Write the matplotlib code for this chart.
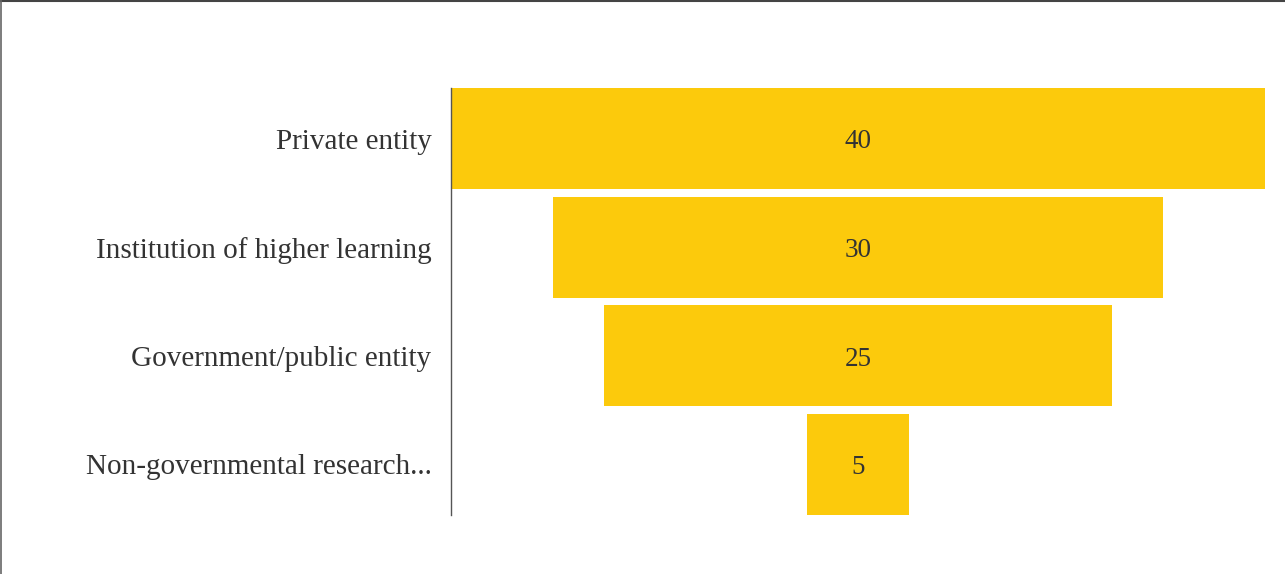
import numpy as np
import matplotlib.pyplot as plt
from matplotlib.lines import Line2D

categorias = ["Private entity", "Institution of higher learning",
              "Government/public entity", "Non-governmental research..."]
valores = [40, 30, 25, 5]

plt.rcParams["font.family"] = ["Liberation Serif", "DejaVu Serif"]

fig = plt.figure(figsize=(12.85, 5.74), dpi=100)
ax = fig.add_axes([0.351, 0.1028, 0.6335, 0.7439])

y = np.arange(len(categorias))
v = np.array(valores, dtype=float)
ax.barh(y, v, left=-v / 2, height=0.93, color="#FCCA0C")

for yi, val in zip(y, valores):
    ax.text(0, yi + 0.03, str(val), ha="center", va="center", fontsize=19.5, color="#333333")

ax.set_xlim(-20, 20)
ax.set_ylim(len(categorias) - 0.535, -0.465)
ax.set_yticks(y)
ax.set_yticklabels(categorias, fontsize=21, color="#333333")
ax.tick_params(axis="y", length=0, pad=14)
ax.set_xticks([])
for lado in ["top", "right", "bottom"]:
    ax.spines[lado].set_visible(False)
ax.spines["left"].set_color("#555555")
ax.spines["left"].set_linewidth(1)

# borde superior e izquierdo
fig.add_artist(Line2D([0, 1], [0.999, 0.999], transform=fig.transFigure, color="#444444", lw=1.5))
fig.add_artist(Line2D([0.0008, 0.0008], [0, 1], transform=fig.transFigure, color="#666666", lw=1.2))

fig.savefig("out.png", dpi=100)
